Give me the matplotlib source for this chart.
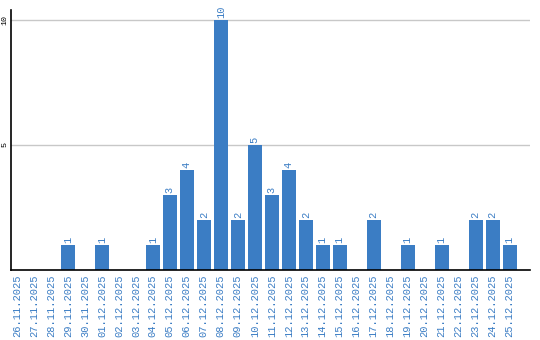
import matplotlib
matplotlib.use('Agg')
import matplotlib.pyplot as plt
import numpy as np

# Fechas y cantidades
fechas = ['26.11.2025', '27.11.2025', '28.11.2025', '29.11.2025', '30.11.2025',
          '01.12.2025', '02.12.2025', '03.12.2025', '04.12.2025', '05.12.2025',
          '06.12.2025', '07.12.2025', '08.12.2025', '09.12.2025', '10.12.2025',
          '11.12.2025', '12.12.2025', '13.12.2025', '14.12.2025', '15.12.2025',
          '16.12.2025', '17.12.2025', '18.12.2025', '19.12.2025', '20.12.2025',
          '21.12.2025', '22.12.2025', '23.12.2025', '24.12.2025', '25.12.2025']
valores = [0, 0, 0, 1, 0, 1, 0, 0, 1, 3, 4, 2, 10, 2, 5, 3, 4, 2, 1, 1,
           0, 2, 0, 1, 0, 1, 0, 2, 2, 1]
yticks = [5, 10]

azul = '#3b7dc4'

fig = plt.figure(figsize=(5.4, 3.4), dpi=100)
ax = fig.add_axes([0.0204, 0.206, 0.9611, 0.7646])

x = np.arange(len(fechas))
ax.bar(x, valores, width=0.82, color=azul, zorder=2)

for xi, v in zip(x, valores):
    if v > 0:
        ax.text(xi, v + 0.08, str(v), rotation=90, ha='center', va='bottom',
                color=azul, fontsize=7.5, family='Liberation Mono')

ax.set_xlim(-0.35, 30.2)
ax.set_ylim(0, 10.4)
ax.set_yticks(yticks)
ax.set_yticklabels([str(t) for t in yticks], rotation=90, va='center',
                   fontsize=6, family='Liberation Mono')
ax.yaxis.grid(True, color='#c8c8c8', linewidth=1, zorder=0)
ax.tick_params(axis='y', length=0, pad=2)

ax.set_xticks(x)
ax.set_xticklabels(fechas, rotation=90, color=azul, fontsize=7.5,
                   family='Liberation Mono')
ax.tick_params(axis='x', length=0, pad=3)

ax.spines['top'].set_visible(False)
ax.spines['right'].set_visible(False)
ax.spines['left'].set_linewidth(1.2)
ax.spines['bottom'].set_linewidth(1.2)

fig.savefig('out.png', dpi=100)
